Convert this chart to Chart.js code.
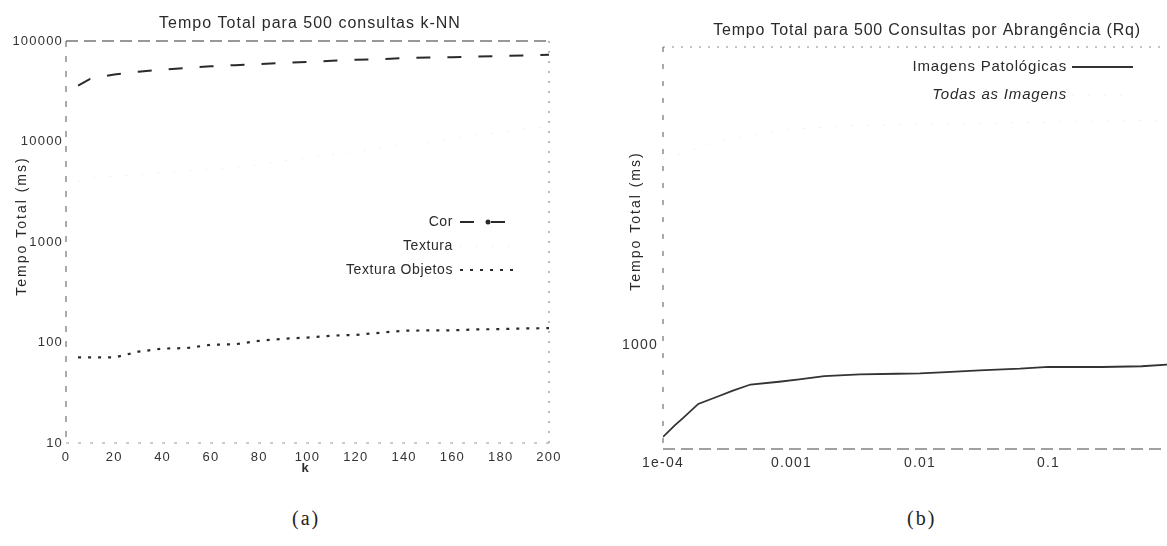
<!DOCTYPE html>
<html>
<head>
<meta charset="utf-8">
<script src="https://cdn.jsdelivr.net/npm/chart.js@4.4.1/dist/chart.umd.min.js"></script>
<style>
  html, body { margin: 0; padding: 0; background: #fff; overflow: hidden; }
  body { width: 1167px; height: 546px; position: relative; }
  #chartA { position: absolute; left: 0; top: 0; }
  #chartB { position: absolute; left: 580px; top: 0; }
  .caption { position: absolute; top: 507px; font-family: "Liberation Serif", serif; font-size: 20px; letter-spacing: 2px; color: #222; }
</style>
</head>
<body>
<canvas id="chartA" width="580" height="480"></canvas>
<canvas id="chartB" width="620" height="480"></canvas>
<div class="caption" style="left:292px">(a)</div>
<div class="caption" style="left:907px">(b)</div>
<script>
// (a) k-NN queries
const kValues = [5, 10, 20, 30, 40, 50, 60, 70, 80, 90, 100, 110, 120, 130, 140, 150, 160, 170, 180, 190, 200];
const corTimes = [36000, 42000, 46500, 49500, 52000, 54000, 56000, 57500, 59000, 60500, 62000, 63500, 65000, 66000, 67500, 68500, 69000, 70000, 71000, 72000, 73000];
const texturaTimes = [4000, 4300, 4500, 4700, 4900, 5100, 5300, 5400, 5900, 6400, 6900, 7400, 8000, 8600, 9200, 9900, 10600, 11400, 12400, 13400, 14000];
const texturaObjetosTimes = [71, 71, 71, 81, 87, 88, 95, 96, 104, 109, 112, 117, 119, 125, 131, 132, 132, 135, 136, 138, 139];
const kTicks = [0, 20, 40, 60, 80, 100, 120, 140, 160, 180, 200];
const timeTicksA = [10, 100, 1000, 10000, 100000];

// (b) range queries
const rqPatologicas = [0.0001, 0.000124, 0.000143, 0.000188, 0.00027, 0.00035, 0.00048, 0.0008, 0.00115, 0.0018, 0.0034, 0.0066, 0.01, 0.016, 0.029, 0.06, 0.1, 0.26, 0.53, 0.9, 1];
const timesPatologicas = [494, 541, 571, 637, 676, 706, 740, 756, 770, 790, 800, 804, 806, 814, 825, 836, 848, 847, 852, 864, 866];
const rqTodas = [0.0001, 0.0003, 0.001, 0.003, 0.01, 0.03, 0.1, 0.3, 1];
const timesTodas = [4200, 4900, 5300, 5450, 5500, 5550, 5600, 5650, 5700];
const rqTicks = [0.0001, 0.001, 0.01, 0.1];
const rqTickLabels = ["1e-04", "0.001", "0.01", "0.1"];
const timeTicksB = [1000];

const FONT = "'Liberation Sans', Arial, sans-serif";
const INK = "#2a2a2a";
const FAINT = "#efefef";

function toPoints(xs, ys) {
    return xs.map((x, i) => ({ x: x, y: ys[i] }));
}

function fixedTicks(values) {
    return (axis) => {
        axis.ticks = values.map(v => ({ value: v }));
    };
}

// titles, borders and gnuplot-like key drawn on top of the chart
function makeDecor(s) {
    return {
        id: "decor",
        beforeDraw(chart) {
            chart.ctx.letterSpacing = s.tickSpacing;
        },
        afterDraw(chart) {
            const ctx = chart.ctx;
            const a = chart.chartArea;
            ctx.save();

            // plot border, each side with its own dash
            const sides = {
                top: [a.left, a.top, a.right, a.top],
                bottom: [a.left, a.bottom, a.right, a.bottom],
                left: [a.left, a.top, a.left, a.bottom],
                right: [a.right, a.top, a.right, a.bottom]
            };
            Object.keys(s.borders).forEach((k) => {
                const b = s.borders[k];
                const p = sides[k];
                ctx.strokeStyle = b.color;
                ctx.lineWidth = b.width || 1;
                ctx.setLineDash(b.dash);
                ctx.beginPath();
                ctx.moveTo(p[0], p[1]);
                ctx.lineTo(p[2], p[3]);
                ctx.stroke();
            });
            ctx.setLineDash([]);

            ctx.fillStyle = INK;
            ctx.textBaseline = "middle";

            // title
            ctx.font = s.title.font;
            ctx.letterSpacing = s.title.spacing;
            ctx.textAlign = "center";
            ctx.fillText(s.title.text, s.title.x, s.title.y);

            // y title
            ctx.save();
            ctx.font = s.yTitle.font;
            ctx.letterSpacing = s.yTitle.spacing;
            ctx.translate(s.yTitle.x, s.yTitle.y);
            ctx.rotate(-Math.PI / 2);
            ctx.fillText(s.yTitle.text, 0, 0);
            ctx.restore();

            // x title
            if (s.xTitle) {
                ctx.font = s.xTitle.font;
                ctx.letterSpacing = "0px";
                ctx.fillText(s.xTitle.text, s.xTitle.x, s.xTitle.y);
            }

            // key
            const key = s.key;
            chart.data.datasets.forEach((ds, i) => {
                const y = key.y + i * key.gap;
                ctx.font = (ds.keyItalic ? "italic " : "") + key.font;
                ctx.letterSpacing = key.spacing;
                ctx.textAlign = "right";
                ctx.fillStyle = INK;
                ctx.fillText(ds.label, key.textRight, y);

                ctx.strokeStyle = ds.borderColor;
                ctx.lineWidth = ds.borderWidth;
                ctx.setLineDash(ds.borderDash || []);
                ctx.beginPath();
                ctx.moveTo(key.x0, y);
                ctx.lineTo(key.x1, y);
                ctx.stroke();
                ctx.setLineDash([]);
                if (ds.keyDot) {
                    ctx.fillStyle = ds.borderColor;
                    ctx.beginPath();
                    ctx.arc((key.x0 + key.x1) / 2, y, 2.5, 0, Math.PI * 2);
                    ctx.fill();
                }
            });
            ctx.restore();
        }
    };
}

const tickFontA = { family: FONT, size: 13 };
const tickFontB = { family: FONT, size: 14 };

new Chart(document.getElementById("chartA"), {
    type: "line",
    data: {
        datasets: [{
            label: "Cor",
            data: toPoints(kValues, corTimes),
            borderColor: INK,
            borderWidth: 2,
            borderDash: [14, 17],
            pointRadius: 0,
            keyDot: true
        }, {
            label: "Textura",
            data: toPoints(kValues, texturaTimes),
            borderColor: FAINT,
            borderWidth: 1,
            borderDash: [2, 14],
            pointRadius: 0
        }, {
            label: "Textura Objetos",
            data: toPoints(kValues, texturaObjetosTimes),
            borderColor: INK,
            borderWidth: 2.2,
            borderDash: [3, 7],
            pointRadius: 0
        }]
    },
    options: {
        responsive: false,
        animation: false,
        devicePixelRatio: 1,
        layout: { padding: { left: 0, right: 31, top: 41, bottom: 7 } },
        plugins: { legend: { display: false }, tooltip: { enabled: false } },
        scales: {
            x: {
                type: "linear",
                min: 0,
                max: 200,
                afterBuildTicks: fixedTicks(kTicks),
                afterFit: (axis) => { axis.height = 30; },
                grid: { display: false, drawTicks: false },
                border: { display: false },
                ticks: { font: tickFontA, color: "#333", padding: 7, autoSkip: false, maxRotation: 0, callback: (v) => String(v) }
            },
            y: {
                type: "logarithmic",
                min: 10,
                max: 100000,
                afterBuildTicks: fixedTicks(timeTicksA),
                afterFit: (axis) => { axis.width = 66; },
                grid: { display: false, drawTicks: false },
                border: { display: false },
                ticks: { font: tickFontA, color: "#333", padding: 3, autoSkip: false, callback: (v) => String(v) }
            }
        }
    },
    plugins: [makeDecor({
        tickSpacing: "1.2px",
        borders: {
            top: { color: "#333", dash: [12, 6], width: 1.2 },
            left: { color: "#555", dash: [6, 9] },
            right: { color: "#777", dash: [2, 8] },
            bottom: { color: "#999", dash: [3, 9] }
        },
        title: { text: "Tempo Total para 500 consultas k-NN", x: 310, y: 24, font: "16px " + FONT, spacing: "1px" },
        yTitle: { text: "Tempo Total (ms)", x: 22, y: 226, font: "14px " + FONT, spacing: "2px" },
        xTitle: { text: "k", x: 305, y: 468, font: "bold 13px " + FONT },
        key: { textRight: 453, y: 222, gap: 24, x0: 460, x1: 516, font: "14px " + FONT, spacing: "0.6px" }
    })]
});

new Chart(document.getElementById("chartB"), {
    type: "line",
    data: {
        datasets: [{
            label: "Imagens Patológicas",
            data: toPoints(rqPatologicas, timesPatologicas),
            borderColor: "#333",
            borderWidth: 1.8,
            pointRadius: 0
        }, {
            label: "Todas as Imagens",
            data: toPoints(rqTodas, timesTodas),
            borderColor: FAINT,
            borderWidth: 1,
            borderDash: [2, 14],
            pointRadius: 0,
            keyItalic: true
        }]
    },
    options: {
        responsive: false,
        animation: false,
        devicePixelRatio: 1,
        layout: { padding: { left: 0, right: 23, top: 47, bottom: 1 } },
        plugins: { legend: { display: false }, tooltip: { enabled: false } },
        scales: {
            x: {
                type: "logarithmic",
                min: 0.0001,
                max: 1,
                afterBuildTicks: fixedTicks(rqTicks),
                afterFit: (axis) => { axis.height = 30; },
                grid: { display: false, drawTicks: false },
                border: { display: false },
                ticks: {
                    font: tickFontB, color: "#333", padding: 6, autoSkip: false, maxRotation: 0,
                    callback: (v, i) => rqTickLabels[i]
                }
            },
            y: {
                type: "logarithmic",
                min: 450,
                max: 10000,
                afterBuildTicks: fixedTicks(timeTicksB),
                afterFit: (axis) => { axis.width = 83; },
                grid: { display: false, drawTicks: false },
                border: { display: false },
                ticks: { font: tickFontB, color: "#333", padding: 5, autoSkip: false, callback: (v) => String(v) }
            }
        }
    },
    plugins: [makeDecor({
        tickSpacing: "1.2px",
        borders: {
            top: { color: "#888", dash: [2, 7] },
            left: { color: "#555", dash: [5, 12] },
            bottom: { color: "#444", dash: [12, 6], width: 1.2 }
        },
        title: { text: "Tempo Total para 500 Consultas por Abrangência (Rq)", x: 347, y: 31, font: "16px " + FONT, spacing: "0.8px" },
        yTitle: { text: "Tempo Total (ms)", x: 56, y: 221, font: "14px " + FONT, spacing: "2px" },
        key: { textRight: 487, y: 67, gap: 28, x0: 492, x1: 553, font: "15px " + FONT, spacing: "0.8px" }
    })]
});
</script>
</body>
</html>
